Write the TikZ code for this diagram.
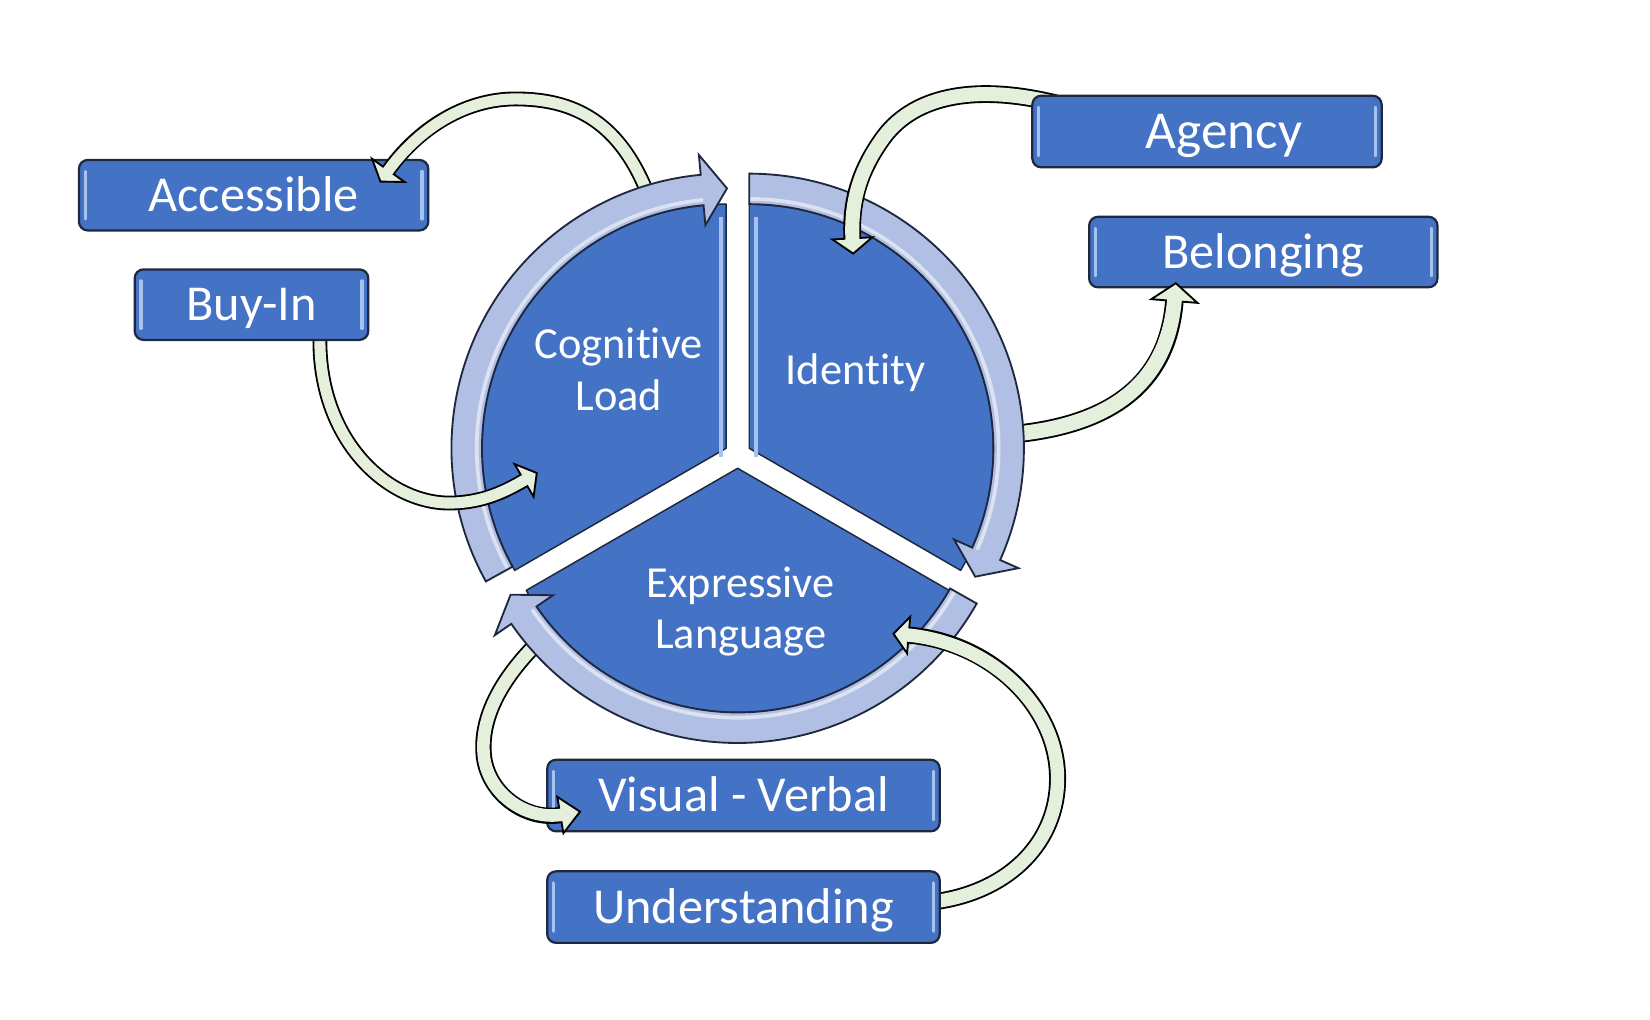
\documentclass[tikz,border=0pt]{standalone}
\usepackage{fontspec}
\setmainfont[Ligatures=NoCommon]{Carlito}
\usetikzlibrary{calc}
\definecolor{segblue}{RGB}{68,114,196}
\definecolor{ringfill}{RGB}{177,191,228}
\definecolor{mint}{RGB}{228,240,220}
\definecolor{boxline}{RGB}{30,40,62}
\definecolor{hilite}{RGB}{165,195,238}
\pgfdeclarelayer{lA}\pgfdeclarelayer{lB}\pgfdeclarelayer{lC}\pgfdeclarelayer{lD}\pgfdeclarelayer{lE}
\pgfsetlayers{lA,lB,lC,lD,lE,main}
\tikzset{
  box/.style={draw=boxline, line width=0.6pt, fill=segblue, rounded corners=2.4pt,
    minimum height=0.67cm, inner sep=0pt, text=white,
    font=\fontsize{13.6}{16}\selectfont, text height=8.76pt, text depth=0pt},
  boxtext/.style={inner sep=0pt, text=white, text height=9.27pt, text depth=0pt,
    font=\fontsize{14.4}{17}\selectfont},
  segtext/.style={text=white, font=\fontsize{12}{14}\selectfont, inner sep=0pt, anchor=base},
  seg/.style={fill=segblue, draw=boxline, line width=0.4pt, line join=round},
  segline/.style={hilite, line width=1.1pt},
  ringline/.style={draw=boxline, line width=0.5pt, line join=miter},
}
\newcommand{\boxhl}[1]{%
  \draw[hilite, line width=0.9pt, line cap=round] ($(#1.south west)+(0.07,0.12)$) -- ($(#1.north west)+(0.07,-0.12)$);
  \draw[hilite, line width=0.9pt, line cap=round] ($(#1.south east)+(-0.07,0.12)$) -- ($(#1.north east)+(-0.07,-0.12)$);}
% #1 centre, #2 tail angle, #3 head base angle, #4 tip angle
\newcommand{\ringarrow}[4]{%
  \fill[ringfill] ($(#1)+(#2:2.61)$) arc[start angle=#2, end angle=#3, radius=2.61]
    -- ($(#1)+(#3:2.80)$) -- ($(#1)+(#4:2.47)$) -- ($(#1)+(#3:2.13)$) -- ($(#1)+(#3:2.32)$)
    arc[start angle=#3, end angle=#2, radius=2.32] -- cycle;
  \draw[white, line width=1pt, opacity=0.55] ($(#1)+(#2:2.37)$) arc[start angle=#2, end angle=#3, radius=2.37];
  \draw[ringline] ($(#1)+(#2:2.61)$) arc[start angle=#2, end angle=#3, radius=2.61]
    -- ($(#1)+(#3:2.80)$) -- ($(#1)+(#4:2.47)$) -- ($(#1)+(#3:2.13)$) -- ($(#1)+(#3:2.32)$)
    arc[start angle=#3, end angle=#2, radius=2.32] -- cycle;}
% #1 path, #2 last control, #3 head base, #4 shaft width (pt), #5 half head width (cm), #6 head length (cm)
\newcommand{\grarrow}[6]{%
  \draw[line width=#4pt+1pt, black] #1;
  \filldraw[fill=mint, draw=black, line width=0.5pt, line join=miter]
    ($(#3)!#5cm!90:(#2)$) -- ($(#3)!-#6cm!(#2)$) -- ($(#3)!#5cm!-90:(#2)$) -- cycle;
  \draw[line width=#4pt, mint, shorten >=-0.7pt] #1;}
\begin{document}
\begin{tikzpicture}
\useasboundingbox (0,0) rectangle (15.68,-9.69);
% ---------- boxes ----------
\begin{pgfonlayer}{lA}
  \fill[white] (0,0) rectangle (15.68,-9.69);
  \node[box, minimum width=3.32cm] (acc) at (2.41,-1.855) {Accessible};
  \node[box, minimum width=3.31cm] (belong) at (12.005,-2.395) {Belonging};
  \node[box, minimum width=3.73cm, minimum height=0.68cm] (visual) at (7.065,-7.56) {Visual - Verbal};
  \boxhl{acc}\boxhl{belong}\boxhl{visual}
\end{pgfonlayer}
\begin{pgfonlayer}{lE}
  \node[box, minimum width=2.22cm] (buy) at (2.39,-2.895) {Buy-In};
  \node[box, minimum width=3.32cm, minimum height=0.68cm] (agency) at (11.47,-1.25) {};
  \node[boxtext] (agencytxt) at (11.63,-1.25) {Agency};
  \node[box, minimum width=3.73cm, minimum height=0.68cm] (under) at (7.065,-8.62) {Understanding};
  \boxhl{buy}\boxhl{agency}\boxhl{under}
\end{pgfonlayer}
% ---------- pie ----------
\coordinate (cc) at (6.90,-4.26);
\coordinate (ci) at (7.12,-4.26);
\coordinate (ce) at (7.01,-4.45);
\begin{pgfonlayer}{lC}
  \path[seg] (cc) -- ($(cc)+(90:2.32)$) arc[start angle=90, end angle=210, radius=2.32] -- cycle;
  \path[seg] (ci) -- ($(ci)+(-30:2.32)$) arc[start angle=-30, end angle=90, radius=2.32] -- cycle;
  \path[seg] (ce) -- ($(ce)+(210:2.32)$) arc[start angle=210, end angle=330, radius=2.32] -- cycle;
  \draw[segline] ($(cc)+(-0.05,-0.08)$) -- ($(cc)+(-0.05,2.2)$);
  \draw[segline] ($(ci)+(0.06,-0.08)$) -- ($(ci)+(0.06,2.2)$);
  \ringarrow{cc}{209}{95.3}{89.8}
  \ringarrow{ci}{90}{-24}{-29.6}
  \ringarrow{ce}{-29.5}{-145.5}{-150.9}
  \node[segtext] (cog1) at (5.88,-3.41) {Cognitive};
  \node[segtext] (cog2) at (5.88,-3.90) {Load};
  \node[segtext] (ident) at (8.13,-3.65) {Identity};
  \node[segtext] (exp1) at (7.04,-5.68) {Expressive};
  \node[segtext] (exp2) at (7.04,-6.16) {Language};
\end{pgfonlayer}
% ---------- connector end points ----------
\coordinate (accT) at ($(cc)+(107:2.47)$);
\coordinate (accC) at ($(acc.north east)+(-0.39,-0.11)$);
\coordinate (accB) at ($(accC)+(0.27,0.38)$);
\coordinate (buyT) at ($(buy.south)+(0.65,0.13)$);
\coordinate (buyC) at (4.98,-4.565);
\coordinate (buyB) at (4.80,-4.67);
\coordinate (agT) at ($(agency.north west)+(0.34,-0.11)$);
\coordinate (agC) at (8.10,-2.265);
\coordinate (agB) at (8.08,-1.90);
\coordinate (beT) at ($(ci)+(3:2.45)$);
\coordinate (beC) at ($(belong.south)+(-0.845,-0.12)$);
\coordinate (beB) at ($(beC)+(-0.06,-0.75)$);
\coordinate (viT) at ($(ce)+(221:2.45)$);
\coordinate (viC) at (5.325,-7.745);
\coordinate (viB) at (5.00,-7.80);
\coordinate (unT) at ($(under.east)+(-0.13,0.06)$);
\coordinate (unC) at (8.635,-6.035);
\coordinate (unB) at (9.40,-6.10);
% ---------- green arrows ----------
\begin{pgfonlayer}{lB}
  \grarrow{(accT) .. controls (5.90,-1.15) and (5.45,-0.94) .. (4.90,-0.94) .. controls (4.40,-0.94) and (accB) .. (accC)}{accB}{accC}{3.0}{0.19}{0.13}
  \grarrow{(beT) .. controls (10.60,-4.05) and (beB) .. (beC)}{beB}{beC}{4.0}{0.22}{0.17}
  \grarrow{(viT) .. controls (4.80,-6.40) and (4.55,-6.80) .. (4.60,-7.20) .. controls (4.65,-7.55) and (viB) .. (viC)}{viB}{viC}{3.4}{0.175}{0.19}
\end{pgfonlayer}
\begin{pgfonlayer}{lD}
  \grarrow{(buyT) -- ++(0,-0.13) .. controls (3.04,-4.20) and (3.70,-4.80) .. (4.30,-4.78) .. controls (4.60,-4.77) and (buyB) .. (buyC)}{buyB}{buyC}{3.0}{0.18}{0.14}
  \grarrow{(agT) .. controls (9.30,-0.78) and (8.70,-0.90) .. (8.40,-1.30) .. controls (8.18,-1.60) and (agB) .. (agC)}{agB}{agC}{3.8}{0.19}{0.145}
  \grarrow{(unT) -- ++(0.13,0) .. controls (9.60,-8.45) and (10.05,-8.00) .. (10.05,-7.40) .. controls (10.05,-6.70) and (unB) .. (unC)}{unB}{unC}{3.6}{0.175}{0.145}
\end{pgfonlayer}
\end{tikzpicture}
\end{document}
